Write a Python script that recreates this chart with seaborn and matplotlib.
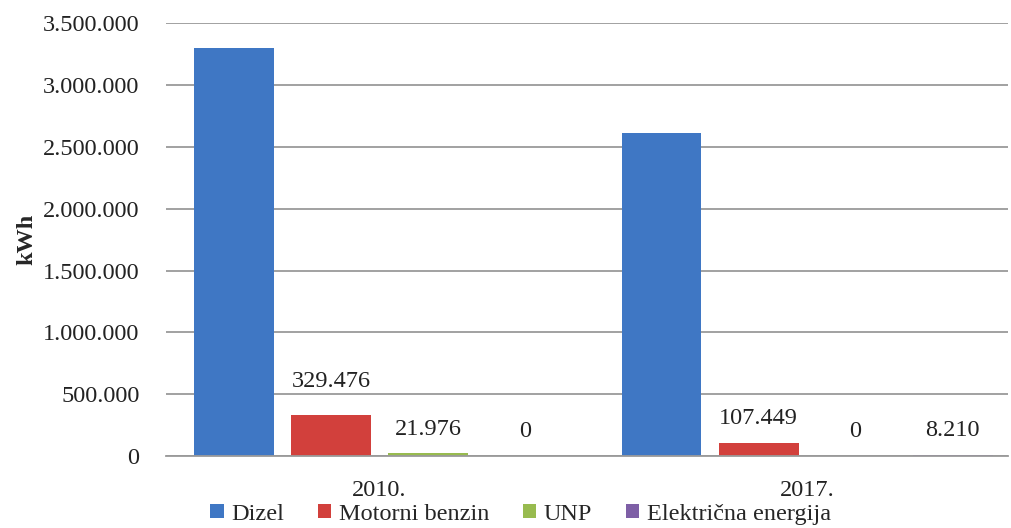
import pandas as pd
import matplotlib.pyplot as plt
import matplotlib.ticker as mticker
import seaborn as sns

years = ["2010.", "2017."]
fuels = ["Dizel", "Motorni benzin", "UNP", "Električna energija"]
dizel = [3300000, 2615000]
benzin = [329476, 107449]
unp = [21976, 0]
struja = [0, 8210]
colors = ["#3F77C4", "#D2403C", "#98BB4F", "#7E5FA6"]

rows = []
for i, y in enumerate(years):
    for f, vals in zip(fuels, [dizel, benzin, unp, struja]):
        rows.append({"year": y, "fuel": f, "kwh": vals[i]})
df = pd.DataFrame(rows)

sns.set_style("white")
plt.rcParams['font.family'] = ['Liberation Serif', 'DejaVu Serif']
fs = 17.5

fig = plt.figure(figsize=(10.11, 5.28), dpi=100)
ax = fig.add_axes([0.164, 0.136, 0.833, 0.82])

sns.barplot(data=df, x="year", y="kwh", hue="fuel", hue_order=fuels,
            palette=colors, width=0.908, gap=0.176, saturation=1,
            edgecolor="none", legend=True, ax=ax)

# data labels (Dizel bars have none in the original); benzin 2010 label sits higher
for cont, f in zip(ax.containers, fuels):
    if f == "Dizel":
        continue
    for bar in cont:
        v = bar.get_height()
        txt = f"{int(v):,}".replace(",", ".")
        off = 17 if v > 300000 else 10
        ax.annotate(txt, (bar.get_x() + bar.get_width() / 2, v),
                    xytext=(0, off), textcoords="offset points",
                    ha="center", va="bottom", fontsize=fs, color="#222222")

ax.set_xlim(-0.5, 1.47)
ax.set_ylim(0, 3500000)
ax.set_yticks(range(0, 3500001, 500000))
ax.yaxis.set_major_formatter(mticker.FuncFormatter(lambda v, p: f"{int(v):,}".replace(",", ".")))
ax.grid(axis="y", color="#9a9a9a", linewidth=1.3)
ax.set_axisbelow(True)
for s in ["top", "right", "left"]:
    ax.spines[s].set_visible(False)
ax.spines["bottom"].set_color("#9a9a9a")
ax.spines["bottom"].set_linewidth(1.3)
ax.tick_params(axis="both", length=0, labelsize=fs, colors="#222222")
ax.tick_params(axis="y", pad=19)
ax.tick_params(axis="x", pad=17)
ax.set_xlabel("")
ax.set_ylabel("kWh", fontsize=fs, fontweight="bold", labelpad=4)

handles, labels = ax.get_legend_handles_labels()
ax.get_legend().remove()
fig.legend(handles, labels, loc="lower center", bbox_to_anchor=(0.515, -0.035),
           ncol=4, frameon=False, fontsize=fs, handlelength=0.55, handleheight=0.55,
           handletextpad=0.3, columnspacing=1.4)

plt.savefig("out.png", dpi=100)
